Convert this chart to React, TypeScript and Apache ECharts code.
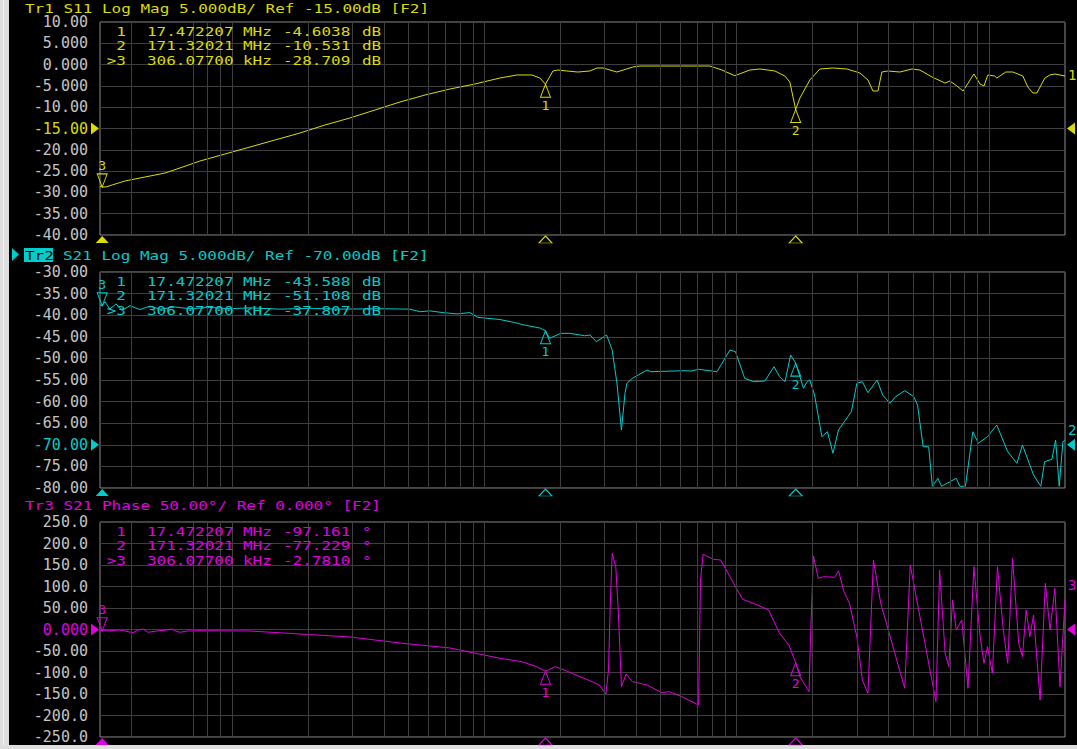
import React, { useEffect, useRef } from "react";
import * as echarts from "echarts";

// ---- sweep (MHz, log) ----
const FREQ_START = 0.3;
const FREQ_STOP = 2000;
const gridFreqsMHz = [
  0.4, 0.7, 0.8, 0.9,
  1, 2, 3, 4, 5, 6, 7, 8, 9,
  10, 20, 30, 40, 50, 60, 70, 80, 90,
  100, 200, 300, 400, 500, 600, 700, 800, 900,
  1000,
];

// ---- markers ----
const markerNames = ["1", "2", "3"];
const markerFreqMHz = [17.472207, 171.32021, 0.306077];
const markerFreqText = ["17.472207", "171.32021", "306.07700"];
const markerUnitText = ["MHz", "MHz", "kHz"];
const ACTIVE_MARKER = 2;
const s11MarkerVals = [-4.6038, -10.531, -28.709];
const s21MarkerVals = [-43.588, -51.108, -37.807];
const phaseMarkerVals = [-97.161, -77.229, -2.781];

// ---- Tr1 S11 Log Mag (dB) ----
const s11Freq = [0.3, 0.306077, 0.317, 0.335, 0.377, 0.452, 0.543, 0.622, 0.747, 0.938, 1.18, 1.48, 1.86, 2.336, 2.93, 3.687, 4.63, 5.82, 7.31, 9.18, 11.53, 13.46, 15.44, 16.61, 17.472207, 18.7, 19.57, 21.25, 23.49, 26.2, 27.94, 29.52, 33.54, 38.79, 41.35, 78.3, 87.4, 98.3, 112.8, 123.6, 141.7, 155.2, 162.4, 171.32021, 178.1, 195.0, 213.6, 240.5, 273.3, 307.7, 331.3, 346.7, 362.9, 376.1, 397.1, 443.3, 495.0, 532.3, 594.0, 669, 700, 746, 789, 871, 921, 955, 989, 1054, 1074, 1166, 1243, 1361, 1425, 1492, 1547, 1664, 1742, 1823, 2000];
const s11Mag = [-28.6, -28.709, -28.73, -28.26, -27.32, -26.39, -25.45, -24.27, -22.63, -20.99, -19.34, -17.7, -16.06, -14.18, -12.54, -10.66, -8.78, -7.14, -5.73, -4.55, -3.15, -2.44, -2.44, -3.15, -4.6038, -1.5, -1.27, -1.5, -1.74, -1.5, -0.8, -0.8, -1.74, -0.56, -0.33, -0.33, -1.27, -2.61, -1.27, -1.03, -1.5, -2.68, -4.08, -10.531, -7.84, -3.61, -1.03, -0.8, -1.03, -1.97, -3.61, -6.2, -6.2, -1.74, -1.5, -1.74, -1.03, -1.27, -2.91, -4.32, -3.85, -5.02, -6.2, -2.21, -4.55, -5.02, -2.44, -2.68, -3.15, -1.74, -1.74, -2.68, -5.26, -6.67, -6.67, -3.15, -2.44, -2.21, -2.68];

// ---- Tr2 S21 Log Mag (dB) ----
const s21Freq = [0.3, 0.306077, 0.314, 0.328, 0.347, 0.367, 0.394, 0.432, 0.473, 0.519, 0.594, 0.682, 0.818, 0.982, 1.178, 1.55, 2.037, 2.679, 3.858, 5.073, 5.557, 6.087, 6.855, 7.789, 8.768, 9.432, 11.53, 13.19, 14.22, 16.68, 17.472207, 18.14, 20.06, 21.82, 24.97, 26.26, 27.78, 30.51, 32.12, 33.54, 34.94, 36.1, 36.73, 38.62, 44.16, 45.67, 61.77, 66.09, 70.65, 83.6, 94.0, 98.9, 107.6, 117.0, 129.3, 140.6, 147.9, 155.5, 163.6, 171.32021, 178.1, 183.9, 190.2, 194.8, 203.5, 217.6, 229.0, 240.7, 253.2, 284.8, 299.4, 314.8, 331.3, 360.3, 378.8, 404.9, 426.3, 463.4, 503.6, 520.8, 548.3, 576.5, 596.3, 626.9, 648.5, 741.3, 766.0, 806.4, 862.7, 907.1, 986, 1073, 1186, 1290, 1356, 1501, 1604, 1660, 1775, 1836, 1897, 1962, 2000];
const s21Mag = [-37.6, -37.807, -36.9, -38.6, -37.4, -38.9, -37.8, -38.7, -37.9, -38.6, -38.1, -38.5, -38.2, -38.5, -38.3, -38.6, -38.4, -38.6, -38.5, -38.6, -39.2, -39.0, -39.4, -39.7, -39.4, -40.5, -41.0, -41.7, -42.2, -43.0, -43.588, -45.35, -44.2, -44.2, -44.75, -44.58, -46.13, -44.58, -48.06, -55.76, -66.57, -58.08, -55.76, -54.61, -52.69, -53.08, -52.85, -52.92, -52.52, -53.08, -48.06, -48.45, -54.61, -55.39, -55.23, -51.92, -54.24, -55.39, -49.21, -51.108, -54.24, -56.92, -55.39, -55.0, -58.47, -68.12, -66.97, -71.97, -66.57, -62.34, -55.76, -55.39, -57.94, -55.0, -58.47, -60.39, -58.87, -57.48, -58.87, -60.79, -70.44, -70.44, -79.6, -77.75, -79.6, -77.75, -79.6, -79.6, -66.97, -69.65, -68.12, -65.42, -71.6, -74.28, -70.05, -76.99, -79.6, -73.91, -73.36, -68.89, -79.6, -69.28, -69.0];

// ---- Tr3 S21 Phase (deg) ----
const phaseFreq = [0.3, 0.306077, 0.3284, 0.36, 0.3873, 0.4054, 0.4243, 0.4441, 0.4648, 0.5045, 0.5527, 0.5784, 0.5944, 0.6223, 0.6633, 0.747, 1.178, 1.86, 2.93, 4.63, 7.31, 11.53, 14.09, 16.13, 17.472207, 19.08, 21.09, 22.56, 25.8, 28.55, 30.32, 31.05, 31.57, 32.12, 33.19, 33.99, 34.94, 36.46, 38.62, 44.16, 50.5, 54.03, 59.73, 70.65, 71.89, 73.62, 80.85, 86.43, 98.9, 105.7, 120.9, 133.8, 147.9, 160.9, 171.32021, 178.1, 193.5, 196.8, 201.5, 210.5, 221.4, 244.7, 253.2, 266.1, 279.8, 299.4, 314.8, 331.3, 348.3, 372.3, 463.4, 487.3, 616.1, 637.2, 670.0, 692.9, 716.7, 741.3, 779.6, 825.6, 871, 922.1, 955, 986, 1031, 1080, 1139, 1186, 1239, 1311, 1356, 1403, 1451, 1501, 1594, 1671, 1745, 1823, 1911, 2000];
const phaseDeg = [-2.78, -2.781, -2.79, -1.16, -5.1, -7.4, -1.16, 1.16, -6.5, -3.5, -1.16, 1.16, -2.79, -6.5, -3.5, -2.8, -3.5, -10.5, -17.4, -31.4, -43.0, -67.0, -74.9, -86.5, -97.161, -86.5, -95.8, -103.5, -117.4, -129.0, -150.0, -94.2, 60.9, 177.2, 146.0, 37.7, -133.0, -103.5, -121.4, -129.0, -147.0, -144.7, -154.7, -175.6, 115.1, 174.9, 163.3, 161.6, 99.5, 70.2, 57.0, 45.3, -8.8, -36.0, -77.229, -109.8, -144.7, 6.5, 170.9, 119.1, 122.8, 121.4, 136.7, 87.9, 60.9, -16.8, -117.4, -148.4, 161.6, 60.9, -136.7, 150.0, -167.9, 138.4, -55.3, -86.5, 68.6, -1.2, 22.1, -136.7, 146.0, -16.8, -78.6, -40.0, -101.9, 146.0, -1.2, -78.6, 165.6, -32.1, -63.3, 45.3, -16.8, 33.7, -164.0, 107.4, -1.2, 95.8, -133.0, 68.6];

// ---- colours / fonts ----
const YELLOW = "#dcdc00";
const CYAN = "#00cccc";
const MAGENTA = "#e000e0";
const LABEL_GRAY = "#c4c4c4";
const GRID_LINE = "#3e3e3e";
const FRAME = "#8c8c8c";
const MONO = '"DejaVu Sans Mono", monospace';
const SX = 1.23;

const panels = [
  {
    title: "Tr1 S11 Log Mag 5.000dB/ Ref -15.00dB [F2]",
    titleY: 8,
    color: YELLOW, min: -40, max: 10, interval: 5, ref: -15,
    top: 22, height: 213,
    freq: s11Freq, vals: s11Mag, markers: s11MarkerVals, unit: "dB",
    trace: "1", endOffset: [0, -1],
  },
  {
    title: "S21 Log Mag 5.000dB/ Ref -70.00dB [F2]",
    titleY: 255,
    color: CYAN, min: -80, max: -30, interval: 5, ref: -70,
    top: 272, height: 216,
    freq: s21Freq, vals: s21Mag, markers: s21MarkerVals, unit: "dB",
    trace: "2", endOffset: [0, -10],
  },
  {
    title: "Tr3 S21 Phase 50.00\u00b0/ Ref 0.000\u00b0 [F2]",
    titleY: 505,
    color: MAGENTA, min: -250, max: 250, interval: 50, ref: 0,
    top: 522, height: 215,
    freq: phaseFreq, vals: phaseDeg, markers: phaseMarkerVals, unit: "\u00b0",
    trace: "3", endOffset: [0, -15],
  },
];

function txt(x: number, y: number, text: string, fill: string, align = "left", size = 13) {
  return {
    type: "text",
    x, y, scaleX: SX, silent: true, z: 10,
    style: {
      text, fill,
      font: `${size}px ${MONO}`,
      textAlign: align,
      textVerticalAlign: "middle",
    },
  };
}

export default function App() {
  const ref = useRef<HTMLDivElement>(null);

  useEffect(() => {
    if (!ref.current) return;
    const chart = echarts.init(ref.current, null, { renderer: "svg" });

    const grids: any[] = [];
    const xAxes: any[] = [];
    const yAxes: any[] = [];
    const series: any[] = [];
    const graphics: any[] = [
      { type: "rect", shape: { x: 0, y: 0, width: 9, height: 749 }, style: { fill: "#dedede" }, silent: true },
      { type: "rect", shape: { x: 0, y: 745, width: 1077, height: 4 }, style: { fill: "#dedede" }, silent: true },
      { type: "line", shape: { x1: 3.5, y1: 0, x2: 3.5, y2: 745 }, style: { stroke: "#f4f4f4", lineWidth: 1 }, silent: true },
    ];

    panels.forEach((p, i) => {
      grids.push({
        left: 100, top: p.top, width: 965, height: p.height,
        show: true, borderColor: FRAME, borderWidth: 1, backgroundColor: "transparent",
      });
      xAxes.push({
        type: "log", logBase: 10, gridIndex: i, min: FREQ_START, max: FREQ_STOP,
        axisLine: { show: false }, axisTick: { show: false },
        axisLabel: { show: false }, splitLine: { show: false },
      });
      yAxes.push({
        type: "value", gridIndex: i, min: p.min, max: p.max, interval: p.interval,
        axisLine: { show: false }, axisTick: { show: false },
        splitLine: { show: true, lineStyle: { color: GRID_LINE, width: 1 } },
        axisLabel: {
          margin: 12,
          fontFamily: MONO,
          fontSize: 15,
          color: (v: any) => (Number(v) === p.ref ? p.color : LABEL_GRAY),
          formatter: (v: number) => Number(v).toPrecision(4),
        },
      });

      // vertical log grid
      series.push({
        type: "line", xAxisIndex: i, yAxisIndex: i, data: [], silent: true, z: 1,
        markLine: {
          silent: true, symbol: ["none", "none"], animation: false,
          label: { show: false },
          lineStyle: { color: GRID_LINE, width: 1, type: "solid" },
          data: gridFreqsMHz.map((f) => ({ xAxis: f })),
        },
      });

      const mp: any[] = [];
      markerFreqMHz.forEach((mf, k) => {
        const active = k === ACTIVE_MARKER;
        mp.push({
          coord: [mf, p.markers[k]],
          symbol: "triangle",
          symbolSize: [10, 13],
          symbolRotate: active ? 180 : 0,
          symbolOffset: [0, active ? -6.5 : 6.5],
          itemStyle: { color: "rgba(0,0,0,0)", borderColor: p.color, borderWidth: 1 },
          label: {
            show: true, formatter: markerNames[k], position: active ? "top" : "bottom",
            distance: 1, color: p.color, fontFamily: MONO, fontSize: 13,
          },
        });
        mp.push({
          coord: [mf, p.min],
          symbol: "triangle",
          symbolSize: [13, 7],
          symbolOffset: [0, 4.5],
          itemStyle: active
            ? { color: p.color }
            : { color: "rgba(0,0,0,0)", borderColor: p.color, borderWidth: 1 },
          label: { show: false },
        });
      });
      // reference level triangles
      mp.push({
        coord: [FREQ_START, p.ref], symbol: "triangle", symbolSize: [12, 8],
        symbolRotate: -90, symbolOffset: [-5, 0], itemStyle: { color: p.color }, label: { show: false },
      });
      mp.push({
        coord: [FREQ_STOP, p.ref], symbol: "triangle", symbolSize: [12, 8],
        symbolRotate: 90, symbolOffset: [6, 0], itemStyle: { color: p.color }, label: { show: false },
      });

      series.push({
        type: "line", xAxisIndex: i, yAxisIndex: i, z: 3,
        data: p.freq.map((f, j) => [f, p.vals[j]]),
        showSymbol: false, symbol: "none",
        lineStyle: { color: p.color, width: 1 },
        itemStyle: { color: p.color },
        endLabel: {
          show: true, formatter: p.trace, color: p.color, fontFamily: MONO, fontSize: 14,
          distance: 3, offset: p.endOffset,
        },
        markPoint: { silent: true, animation: false, data: mp },
      });

      // title
      if (i === 1) {
        graphics.push({
          type: "polygon", shape: { points: [[12, 248], [12, 261], [19, 254.5]] },
          style: { fill: p.color }, silent: true,
        });
        graphics.push({
          type: "rect", shape: { x: 24, y: 248, width: 29, height: 14 },
          style: { fill: p.color }, silent: true, z: 9,
        });
        graphics.push(txt(25, p.titleY, "Tr2", "#000000"));
        graphics.push(txt(63, p.titleY, p.title, p.color));
      } else {
        graphics.push(txt(25, p.titleY, p.title, p.color));
      }

      // marker readout table
      const rowDy = [9, 23.5, 38];
      markerNames.forEach((name, k) => {
        const y = p.top + rowDy[k];
        const label = k === ACTIVE_MARKER ? ">" + name : name;
        graphics.push(txt(126, y, label, p.color, "right"));
        graphics.push(txt(147, y, markerFreqText[k], p.color));
        graphics.push(txt(243, y, markerUnitText[k], p.color));
        graphics.push(txt(283, y, p.markers[k].toPrecision(5), p.color));
        graphics.push(txt(362, y, p.unit, p.color));
      });
    });

    chart.setOption({
      animation: false,
      backgroundColor: "#000000",
      grid: grids,
      xAxis: xAxes,
      yAxis: yAxes,
      series,
      graphic: { elements: graphics },
    });

    return () => chart.dispose();
  }, []);

  return (
    <div
      ref={ref}
      style={{ position: "absolute", left: 0, top: 0, width: 1077, height: 749 }}
    />
  );
}
